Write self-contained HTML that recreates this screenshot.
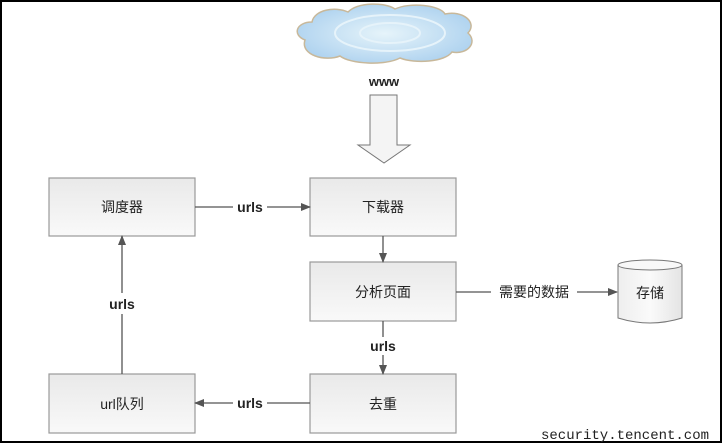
<!DOCTYPE html>
<html><head><meta charset="utf-8"><style>
body{margin:0;width:723px;height:445px;overflow:hidden;background:#fff}
svg{display:block}
text{font-family:"Liberation Sans","Noto Sans CJK SC",sans-serif;fill:#222}
</style></head><body>
<svg width="723" height="445" viewBox="0 0 723 445">
<defs>
<linearGradient id="g" x1="0" y1="0" x2="0" y2="1"><stop offset="0" stop-color="#e9e9e9"/><stop offset="1" stop-color="#f9f9f9"/></linearGradient>
<linearGradient id="c" x1="0" y1="0" x2="1" y2="0"><stop offset="0" stop-color="#eeeeee"/><stop offset="0.5" stop-color="#fafafa"/><stop offset="1" stop-color="#e4e4e4"/></linearGradient>
<radialGradient id="cl" cx="0.5" cy="0.5" r="0.6"><stop offset="0" stop-color="#e6f4fa"/><stop offset="1" stop-color="#a9cfee"/></radialGradient>
<marker id="a" markerWidth="10" markerHeight="8" refX="9" refY="4" orient="auto" markerUnits="userSpaceOnUse"><path d="M0,0 L10,4 L0,8z" fill="#555"/></marker>
</defs>
<rect x="1" y="1" width="720" height="441" fill="none" stroke="#000" stroke-width="2"/>
<g>
<path d="M305,40 C292,35 296,22 312,22 C314,10 335,6 348,12 C358,2 385,2 395,9 C410,2 440,5 445,14 C462,10 478,22 468,33 C478,42 468,55 452,52 C445,62 415,64 400,58 C385,66 350,64 340,56 C325,62 300,55 305,40Z" fill="url(#cl)" stroke="#c8b89a" stroke-width="1.5"/>
<ellipse cx="390" cy="33" rx="55" ry="18" fill="none" stroke="#e6f3fa" stroke-width="2"/>
<ellipse cx="390" cy="33" rx="30" ry="10" fill="none" stroke="#e6f3fa" stroke-width="2"/>
</g>
<text x="384" y="86" font-size="13" text-anchor="middle" font-weight="bold">www</text>
<path d="M370,95 H397 V145 H410 L384,163 L358,145 H370Z" fill="#f4f4f4" stroke="#777" stroke-width="1"/>
<g stroke="#999" stroke-width="1.2" fill="url(#g)">
<rect x="49" y="178" width="146" height="58"/>
<rect x="310" y="178" width="146" height="58"/>
<rect x="310" y="262" width="146" height="59"/>
<rect x="310" y="374" width="146" height="59"/>
<rect x="49" y="374" width="146" height="59"/>
</g>
<path d="M618,265 V318 Q650,328 682,318 V265" fill="url(#c)" stroke="#777"/>
<ellipse cx="650" cy="265" rx="32" ry="5" fill="#f8f8f8" stroke="#777"/>
<g font-size="14" text-anchor="middle">
<text x="122" y="212">调度器</text>
<text x="383" y="212">下载器</text>
<text x="383" y="297">分析页面</text>
<text x="383" y="409">去重</text>
<text x="122" y="409">url队列</text>
<text x="650" y="298">存储</text>
</g>
<g stroke="#555" stroke-width="1.3" fill="none">
<line x1="195" y1="207" x2="233" y2="207"/><line x1="267" y1="207" x2="310" y2="207" marker-end="url(#a)"/>
<line x1="383" y1="236" x2="383" y2="262" marker-end="url(#a)"/>
<line x1="456" y1="292" x2="491" y2="292"/><line x1="577" y1="292" x2="617" y2="292" marker-end="url(#a)"/>
<line x1="383" y1="321" x2="383" y2="337"/><line x1="383" y1="355" x2="383" y2="374" marker-end="url(#a)"/>
<line x1="310" y1="403" x2="267" y2="403"/><line x1="233" y1="403" x2="195" y2="403" marker-end="url(#a)"/>
<line x1="122" y1="374" x2="122" y2="314"/><line x1="122" y1="293" x2="122" y2="236" marker-end="url(#a)"/>
</g>
<g font-size="14" text-anchor="middle" font-weight="bold">
<text x="250" y="212">urls</text>
<text x="250" y="408">urls</text>
<text x="122" y="309">urls</text>
<text x="383" y="351">urls</text>
</g>
<text x="534" y="297" font-size="14" text-anchor="middle">需要的数据</text>
<text x="625" y="439" font-size="14" text-anchor="middle" style="font-family:'Liberation Mono',monospace" fill="#333">security.tencent.com</text>
</svg>
</body></html>
